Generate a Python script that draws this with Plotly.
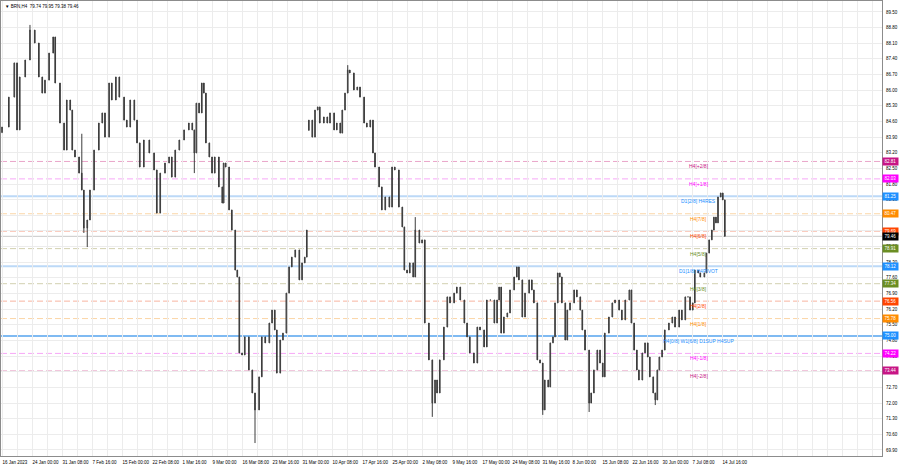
import plotly.graph_objects as go

# ---------------- data ----------------
symbol_title = "▼ BRN,H4  79.74 79.95 79.38 79.46"

# bar position (H4 bar number counted from 16 Jan 2023) and close price
bar_index = [
    0, 10, 18, 22, 26, 34, 41, 48, 54, 59,
    63, 69, 75, 78, 85, 91, 95, 100, 103, 107,
    113, 117, 120, 125, 129, 135, 142, 147, 151, 157,
    161, 167, 172, 179, 183, 188, 194, 198, 202, 208,
    216, 223, 227, 232, 239, 245, 249, 254, 260, 267,
    274, 279, 282, 285, 289, 293, 296, 299, 304, 308,
    312, 318, 323, 325, 328, 333, 337, 342, 345, 348,
    352, 356, 362, 367, 371, 377, 381, 386, 392, 396,
    400, 403, 408, 412, 417, 421, 425, 430, 436, 440,
    444, 447,
    450, 455, 459, 463, 466, 472, 477, 481, 487, 491,
    496, 499, 503, 507, 510, 516, 521, 525, 531, 535,
    540, 544, 547, 553, 557, 562, 568, 572, 576, 582,
    587, 590, 594, 598, 603, 606, 612, 616, 620, 626,
    631, 635, 638, 642, 648, 653, 657, 663, 667, 672,
    678, 682, 686, 692, 697, 701, 707, 711, 716, 722,
    726, 729, 732, 736, 741, 745, 751, 755, 758, 763,
    767, 773, 777, 780, 785, 789, 793, 796, 801, 804,
    808, 811, 815, 818, 821, 826, 829, 833, 839, 843,
    848, 851, 855, 861, 864, 868, 873, 877, 881, 884,
    890, 895, 899, 905, 909, 914, 920, 923, 927, 931,
    934, 939, 943, 947, 950, 955, 958, 961, 964, 968,
    972, 978, 983, 987, 993, 997, 1002, 1006, 1009, 1013,
    1016, 1021, 1024, 1030, 1033, 1037, 1041, 1044, 1047, 1050,
    1054, 1057, 1060,
]
close_price = [
    84.35, 85.69, 87.22, 84.22, 86.59, 87.35, 88.69, 88.11, 86.59, 85.87,
    86.45, 87.66, 88.38, 86.32, 84.53, 83.32, 85.56, 85.11, 83.32, 83.01,
    82.29, 81.53, 79.83, 80.19, 81.53, 83.32, 84.53, 84.98, 83.90, 86.32,
    85.56, 86.59, 85.69, 84.66, 84.35, 85.56, 84.66, 83.64, 82.56, 83.77,
    83.19, 82.43, 80.50, 82.29, 82.74, 83.01, 82.11, 83.32, 83.77, 84.22,
    84.53, 84.22, 83.19, 85.42, 84.98, 86.32, 85.87, 83.64, 83.01, 82.29,
    83.01, 81.67, 80.95, 82.74, 82.56, 80.64, 79.74, 77.95, 77.64, 74.24,
    74.15, 74.96, 73.48, 72.45, 71.69, 73.17, 74.96, 74.69, 75.58, 76.16,
    75.27, 73.34, 74.82, 75.13, 76.92, 78.09, 78.53, 78.85, 77.51, 78.27,
    78.53, 79.74,
    84.66, 83.90, 85.11, 85.25, 84.53, 84.80, 84.53, 84.98, 84.22, 84.53,
    84.08, 85.11, 85.87, 86.90, 86.77, 86.01, 86.14, 85.69, 84.53, 84.35,
    84.66, 83.19, 82.56, 81.67, 80.64, 81.22, 80.77, 82.56, 82.43, 80.77,
    79.88, 77.95, 77.82, 78.27, 77.64, 79.74, 79.16, 79.30, 75.58, 73.93,
    72.00, 73.03, 72.45, 73.93, 75.40, 76.75, 76.48, 76.92, 77.19, 76.61,
    75.58, 74.96, 74.24, 73.79, 75.40, 75.27, 74.51, 76.61, 76.61, 75.58,
    76.61, 77.19, 75.13, 75.85, 76.03, 77.06, 77.64, 78.09, 77.51, 75.85,
    76.92, 77.51, 77.06, 76.48, 73.93, 73.79, 71.69, 73.03, 72.72, 74.69,
    74.96, 76.48, 77.82, 77.64, 76.48, 74.82, 76.16, 76.48, 77.06, 76.75,
    76.16, 75.27, 74.37, 72.00, 72.45, 73.48, 74.37, 73.79, 73.17, 75.13,
    75.85, 76.48, 76.61, 76.16, 75.72, 76.61, 77.06, 75.58, 74.37, 73.48,
    73.03, 74.24, 74.69, 74.06, 73.17, 72.45, 72.14, 73.48, 74.06, 74.37,
    75.27, 75.58, 75.85, 75.40, 76.16, 75.72, 76.75, 76.75, 76.16, 76.48,
    77.95, 77.82, 77.64, 77.82, 78.71, 79.30, 79.74, 80.32, 80.06, 81.22,
    81.40, 81.09, 79.46,
]
assert len(bar_index) == len(close_price)

# opening prices that differ from the previous close (first bar, weekend gap)
gap_opens = {0: 84.10, 450: 84.20}
# wick extremes that stand out in the picture
wick_highs = {41: 88.92, 117: 84.05, 507: 87.12, 606: 80.32, 1060: 79.95}
wick_lows = {120: 79.61, 125: 78.98, 282: 82.29, 371: 70.21, 631: 71.38,
             793: 71.47, 861: 71.60, 958: 71.91}

# x-axis labels (every 44 H4 bars)
time_labels = [
    "16 Jan 2023", "24 Jan 00:00", "31 Jan 08:00", "7 Feb 16:00", "15 Feb 00:00",
    "22 Feb 08:00", "1 Mar 16:00", "9 Mar 00:00", "16 Mar 08:00", "23 Mar 16:00",
    "31 Mar 00:00", "10 Apr 08:00", "17 Apr 16:00", "25 Apr 00:00", "2 May 08:00",
    "9 May 16:00", "17 May 00:00", "24 May 08:00", "31 May 16:00", "8 Jun 00:00",
    "15 Jun 08:00", "22 Jun 16:00", "30 Jun 00:00", "7 Jul 08:00", "14 Jul 16:00",
]
label_step = 44

# Murrey-math levels: value, label, box colour, line colour, dash
level_values = [82.81, 82.03, 81.25, 80.47, 79.69, 78.91, 78.12, 77.34,
                76.56, 75.78, 75.00, 74.22, 73.44]
level_names = ["H4[+2/8]", "H4[+1/8]", "D1[2/8] H4RES", "H4[7/8]", "H4[6/8]",
               "H4[5/8]", "D1[1/8] H4PIVOT", "H4[3/8]", "H4[2/8]", "H4[1/8]",
               "H4[0/8] W1[6/8] D1SUP H4SUP", "H4[-1/8]", "H4[-2/8]"]
level_colors = ["#c71585", "#ff00ff", "#1e90ff", "#ff8c00", "#ff4500",
                "#6b8e23", "#1e90ff", "#6b8e23", "#ff4500", "#ff8c00",
                "#1e90ff", "#ff00ff", "#c71585"]
level_line_colors = ["#eaa6c9", "#f7a8f7", "#bcd9f7", "#fbd6a6", "#f8b4a0",
                     "#d2d0b0", "#bcd9f7", "#d2d0b0", "#f8b4a0", "#fbd6a6",
                     "#7fbaf2", "#f7a8f7", "#eaa6c9"]
level_dashed = [True, True, False, True, True, True, False, True, True, True,
                False, True, True]
current_price = 79.46

# ---------------- build candles ----------------
opens, highs, lows = [], [], []
for i, (b, c) in enumerate(zip(bar_index, close_price)):
    o = gap_opens.get(b, close_price[i - 1] if i > 0 else c)
    opens.append(o)
    highs.append(max(o, c, wick_highs.get(b, c)))
    lows.append(min(o, c, wick_lows.get(b, c)))

FONT = "Liberation Sans"
FS = 4.5      # axis / title text
FS_LVL = 5.0  # level captions
fig = go.Figure()
fig.add_trace(go.Candlestick(
    x=bar_index, open=opens, high=highs, low=lows, close=close_price,
    increasing=dict(line=dict(color="#3c3c3c", width=1), fillcolor="#ffffff"),
    decreasing=dict(line=dict(color="#3c3c3c", width=1), fillcolor="#3c3c3c"),
    whiskerwidth=0, showlegend=False, hoverinfo="skip",
))

shapes = []
annotations = []
for v, name, bc, lc, dashed in zip(level_values, level_names, level_colors,
                                   level_line_colors, level_dashed):
    shapes.append(dict(type="line", xref="paper", x0=0, x1=1, yref="y", y0=v, y1=v,
                       line=dict(color=lc, width=1 if dashed else 2,
                                 dash="6px,3px" if dashed else "solid"),
                       layer="below"))
    annotations.append(dict(xref="paper", x=0.792, yref="y", y=v, text=name,
                            showarrow=False, xanchor="center", yanchor="top",
                            yshift=0, font=dict(family=FONT, size=FS_LVL, color=bc)))
shapes.append(dict(type="line", xref="paper", x0=0, x1=1, yref="y",
                   y0=current_price, y1=current_price,
                   line=dict(color="#c8c8c8", width=1), layer="below"))

# price boxes on the right axis
for v, bc in zip(level_values, level_colors):
    annotations.append(dict(xref="paper", x=1, yref="y", y=v, text=f"{v:.2f}",
                            showarrow=False, xanchor="left", yanchor="middle",
                            bgcolor=bc, borderpad=0, width=15, height=7, xshift=0,
                            font=dict(family=FONT, size=FS, color="#ffffff")))
annotations.append(dict(xref="paper", x=1, yref="y", y=current_price,
                        text=f"{current_price:.2f}", showarrow=False,
                        xanchor="left", yanchor="middle", bgcolor="#000000",
                        borderpad=0, width=15, height=7,
                        font=dict(family=FONT, size=FS, color="#ffffff")))
annotations.append(dict(xref="paper", x=0, yref="paper", y=1, text=symbol_title,
                        showarrow=False, xanchor="left", yanchor="top",
                        xshift=2, yshift=-1,
                        font=dict(family=FONT, size=FS, color="#000000")))

tick_vals = [i * label_step for i in range(len(time_labels))]

fig.update_layout(
    width=900, height=468,
    margin=dict(l=1, r=18, t=1, b=12, autoexpand=False),
    paper_bgcolor="#ffffff", plot_bgcolor="#ffffff",
    shapes=shapes, annotations=annotations,
    font=dict(family=FONT, size=FS, color="#000000"),
    xaxis=dict(
        range=[-1.5, 1290.5], rangeslider=dict(visible=False),
        tickmode="array", tickvals=tick_vals, ticktext=time_labels,
        ticklabelposition="outside right", ticks="", tickangle=0,
        automargin=False, ticklabelstandoff=2,
        showgrid=True, gridcolor="#ececec", gridwidth=1,
        minor=dict(tickmode="linear", tick0=0, dtick=label_step // 2,
                   showgrid=True, gridcolor="#ececec", gridwidth=1),
        showline=True, linecolor="#8c8c8c", linewidth=1, mirror=True,
        zeroline=False, tickfont=dict(family=FONT, size=FS, color="#000000"),
    ),
    yaxis=dict(
        side="right", range=[69.63, 89.99], automargin=False,
        tickmode="linear", tick0=69.9, dtick=0.7, tickformat=".2f",
        showgrid=True, gridcolor="#ececec", gridwidth=1,
        showline=True, linecolor="#8c8c8c", linewidth=1, mirror=True,
        zeroline=False, ticks="", ticklabelstandoff=2,
        tickfont=dict(family=FONT, size=FS, color="#000000"),
    ),
)

fig.write_html(
    "out.html",
    config={"displayModeBar": False},
    post_script="document.body.style.margin='0';document.body.style.padding='0';"
                "document.body.style.overflow='hidden';",
)
